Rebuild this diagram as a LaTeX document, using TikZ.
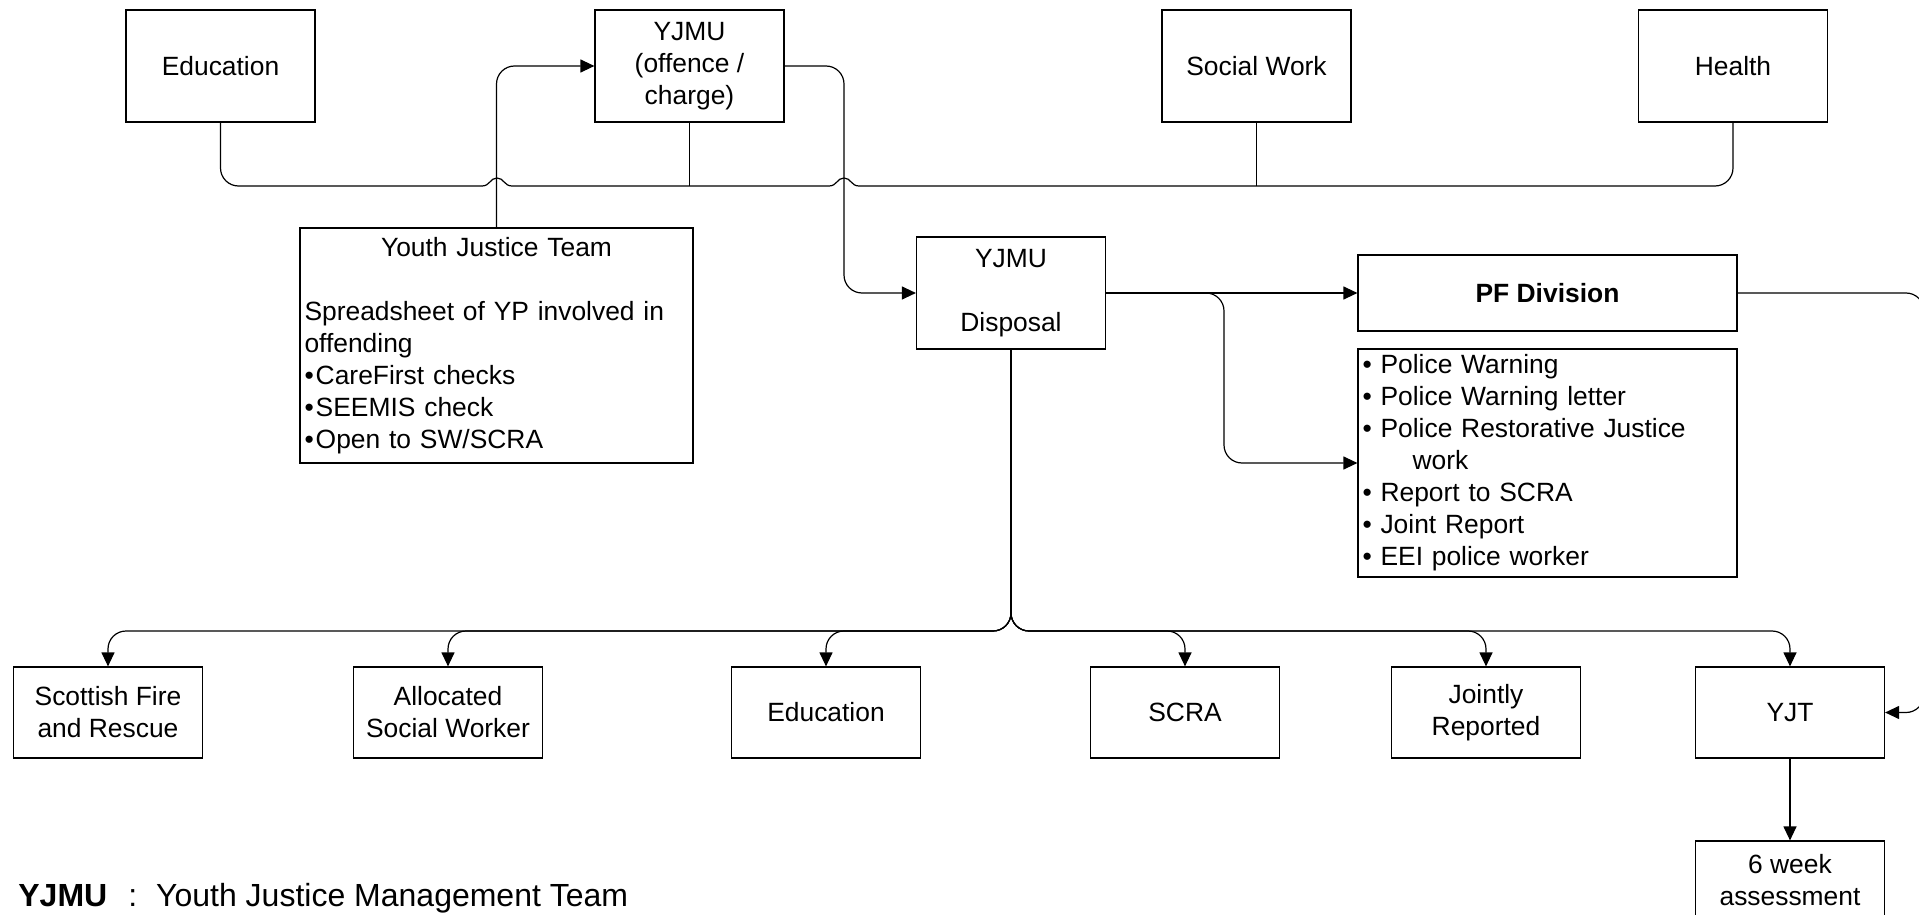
\documentclass[tikz,border=0pt]{standalone}
\usepackage{fontspec}
\setmainfont{Liberation Sans}
\usetikzlibrary{arrows.meta}

\begin{document}
\begin{tikzpicture}[x=0.5pt,y=-0.5pt,
		box/.style={draw, line width=0.6pt, minimum width=94.5pt, minimum height=45.5pt, inner sep=2pt, align=center, font=\fontsize{13.2}{16}\selectfont},
		topbox/.style={box, minimum height=56pt},
		listbox/.style={draw, line width=0.6pt, inner sep=2pt, align=left, font=\fontsize{13.2}{16}\selectfont},
		conn/.style={line width=0.6pt, rounded corners=9pt},
		arr/.style={conn, -{Triangle[length=7pt,width=6.5pt]}}]
		\useasboundingbox (0,0) rectangle (1919,915);
		
		%top row
		\node (edu) at (220.5,66) [topbox]{Education};
		\node (yjmu) at (689.5,66) [topbox]{YJMU\\(offence /\\charge)};
		\node (sw) at (1256.5,66) [topbox]{Social Work};
		\node (hea) at (1733,66) [topbox]{Health};
		
		%middle
		\node (team) at (496.5,345.5) [listbox, minimum width=196.5pt, minimum height=117.5pt, text width=192pt]{\makebox[192pt]{Youth Justice Team}\\[16pt]Spreadsheet of YP involved in\\offending\\\textbullet\hspace{1pt}CareFirst checks\\\textbullet\hspace{1pt}SEEMIS check\\\textbullet\hspace{1pt}Open to SW/SCRA};
		\node (disp) at (1011,293) [topbox]{YJMU\\[16pt]Disposal};
		\node (pf) at (1547.5,293) [box, minimum width=189.5pt, minimum height=38pt]{\textbf{PF Division}};
		\node (list) at (1547.5,463) [listbox, minimum width=189.5pt, minimum height=114pt, text width=185pt]{\textbullet\ Police Warning\\\textbullet\ Police Warning letter\\\textbullet\ Police Restorative Justice\\\hspace{25pt}work\\\textbullet\ Report to SCRA\\\textbullet\ Joint Report\\\textbullet\ EEI police worker};
		
		%bottom row
		\node (fire) at (108,712.5) [box]{Scottish Fire\\and Rescue};
		\node (asw) at (448,712.5) [box]{Allocated\\Social Worker};
		\node (edub) at (826,712.5) [box]{Education};
		\node (scra) at (1185,712.5) [box]{SCRA};
		\node (joint) at (1486,712.5) [box]{Jointly\\Reported};
		\node (yjt) at (1790,712.5) [box]{YJT};
		\node (six) at (1790,880) [box, minimum height=39pt]{6 week\\assessment};
		
		%key
		\node (key) at (18,906) [anchor=base west, inner sep=0pt, font=\fontsize{16}{19}\selectfont]{\textbf{YJMU}\hspace{10.5pt}:\hspace{9.5pt}Youth Justice Management Team};
		
		%top bus with line jumps
		\draw[conn] (edu.south) -- (220.5,186) -- (482,186);
		\draw[line width=0.6pt] (482,186) .. controls (490,186) and (490,178) .. (497,178) .. controls (504,178) and (504,186) .. (512,186) -- (829,186) .. controls (837,186) and (837,178) .. (844,178) .. controls (851,178) and (851,186) .. (859,186);
		\draw[conn] (859,186) -- (1733,186) -- (hea.south);
		\draw[conn] (yjmu.south) -- (689.5,186);
		\draw[conn] (sw.south) -- (1256.5,186);
		
		\draw[arr] (team.north) |- (yjmu.west);
		\draw[arr] (yjmu.east) -- (844,66) |- (disp.west);
		\draw[arr] (disp.east) -- (pf.west);
		\draw[arr] (disp.east) -- (1224,293) |- (list.west);
		\draw[arr] (pf.east) -- (1924,293) |- (yjt.east);
		
		\foreach \n in {fire, asw, edub, scra, joint, yjt}{
			\draw[arr] (disp.south) -- (1011,631) -| (\n.north);
		}
		\draw[arr] (yjt.south) -- (six.north);
		\end{tikzpicture}
\end{document}
